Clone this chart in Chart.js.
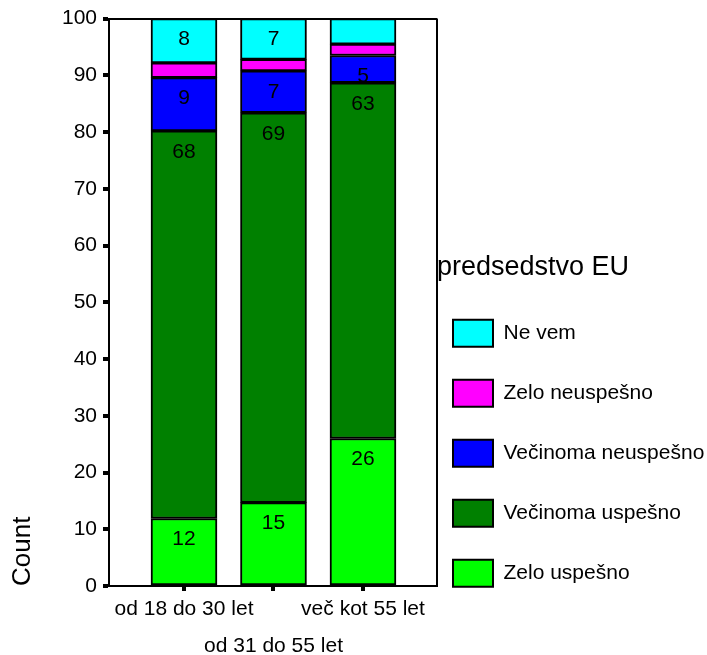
<!DOCTYPE html>
<html>
<head>
<meta charset="utf-8">
<script src="https://cdn.jsdelivr.net/npm/chart.js@4/dist/chart.umd.min.js"></script>
<style>
  html, body { margin: 0; padding: 0; background: #fff; }
  #wrap { width: 707px; height: 655px; }
</style>
</head>
<body>
<div id="wrap"><canvas id="graf"></canvas></div>
<script>
// Starostne skupine (os x)
const categories = ['od 18 do 30 let', 'od 31 do 55 let', 'več kot 55 let'];

// Odstotki odgovorov, od spodaj navzgor
const zeloUspesno = [11.9, 14.7, 26.0];
const vecinomaUspesno = [68.3, 68.7, 62.7];
const vecinomaNeuspesno = [9.4, 7.4, 4.8];
const zeloNeuspesno = [2.6, 2.0, 2.0];
const neVem = [7.8, 7.2, 4.5];

// Oznake na osi y
const yTicks = [0, 10, 20, 30, 40, 50, 60, 70, 80, 90, 100];

// Obseg osi x (stolpci so na 1, 2, 3)
const X_MIN = 0.162;
const X_MAX = 3.827;

Chart.defaults.font.family = "'Liberation Sans', Arial, sans-serif";
Chart.defaults.color = '#000';

// Izpis vrednosti v stolpcih (samo za dovolj visoke dele)
const oznake = {
    id: 'oznake',
    afterDatasetsDraw(chart) {
        const ctx = chart.ctx;
        ctx.save();
        ctx.font = "21px 'Liberation Sans', Arial, sans-serif";
        ctx.fillStyle = '#000';
        ctx.textAlign = 'center';
        ctx.textBaseline = 'middle';
        chart.data.datasets.forEach(function (ds, i) {
            const meta = chart.getDatasetMeta(i);
            meta.data.forEach(function (bar, j) {
                const v = ds.data[j];
                if (v < 4.7) return;
                ctx.fillText(Math.round(v), bar.x, bar.y + 21);
            });
        });
        ctx.restore();
    }
};

function stolpec(label, data, barva) {
    return {
        label: label,
        data: data,
        backgroundColor: barva,
        borderColor: '#000',
        borderWidth: 2,
        borderSkipped: false,
        barThickness: 66
    };
}

new Chart(document.getElementById('graf'), {
    type: 'bar',
    data: {
        labels: categories.map(function (c, i) { return i + 1; }),
        datasets: [
            stolpec('Zelo uspešno', zeloUspesno, '#00FF00'),
            stolpec('Večinoma uspešno', vecinomaUspesno, '#008000'),
            stolpec('Večinoma neuspešno', vecinomaNeuspesno, '#0000FF'),
            stolpec('Zelo neuspešno', zeloNeuspesno, '#FF00FF'),
            stolpec('Ne vem', neVem, '#00FFFF')
        ]
    },
    options: {
        responsive: true,
        maintainAspectRatio: false,
        animation: false,
        layout: { padding: { top: 18 } },
        scales: {
            x: {
                type: 'linear',
                min: X_MIN,
                max: X_MAX,
                offset: false,
                stacked: true,
                afterBuildTicks: function (s) {
                    s.ticks = [1, 2, 3, X_MAX].map(function (v) { return { value: v }; });
                },
                afterFit: function (s) { s.height = 69; },
                grid: {
                    offset: false,
                    color: function (c) { return (c.tick && c.tick.value === X_MAX) ? '#000' : 'rgba(0,0,0,0)'; },
                    lineWidth: 2,
                    tickColor: function (c) { return (c.tick && c.tick.value === X_MAX) ? 'rgba(0,0,0,0)' : '#000'; },
                    tickWidth: 4,
                    tickLength: 5
                },
                border: { color: '#000', width: 2 },
                ticks: {
                    autoSkip: false,
                    maxRotation: 0,
                    minRotation: 0,
                    padding: 0,
                    font: { size: 21, lineHeight: '37px' },
                    callback: function (v) {
                        if (v === 2) return ['', categories[1]];
                        if (v === 1 || v === 3) return categories[v - 1];
                        return '';
                    }
                }
            },
            y: {
                stacked: true,
                min: 0,
                max: 100,
                afterBuildTicks: function (s) {
                    s.ticks = yTicks.map(function (v) { return { value: v }; });
                },
                afterFit: function (s) { s.width = 109; },
                grid: {
                    color: function (c) { return (c.tick && c.tick.value === 100) ? '#000' : 'rgba(0,0,0,0)'; },
                    lineWidth: 2,
                    tickColor: '#000',
                    tickWidth: 4,
                    tickLength: 6
                },
                border: { color: '#000', width: 2 },
                ticks: { padding: 6, font: { size: 21 } },
                title: {
                    display: true,
                    text: 'Count',
                    align: 'start',
                    font: { size: 26 },
                    padding: { top: 7, bottom: 0 }
                }
            }
        },
        plugins: {
            tooltip: { enabled: false },
            legend: {
                position: 'right',
                align: 'center',
                reverse: true,
                maxWidth: 270,
                title: {
                    display: true,
                    text: 'predsedstvo EU',
                    position: 'start',
                    font: { size: 27 },
                    padding: { top: 201, bottom: 17 }
                },
                labels: {
                    boxWidth: 40,
                    boxHeight: 27,
                    padding: 16,
                    font: { size: 21, lineHeight: '44px' },
                    generateLabels: function (chart) {
                        return Chart.defaults.plugins.legend.labels.generateLabels(chart).map(function (it) {
                            it.text = [it.text];
                            return it;
                        });
                    }
                }
            }
        }
    },
    plugins: [oznake]
});
</script>
</body>
</html>
